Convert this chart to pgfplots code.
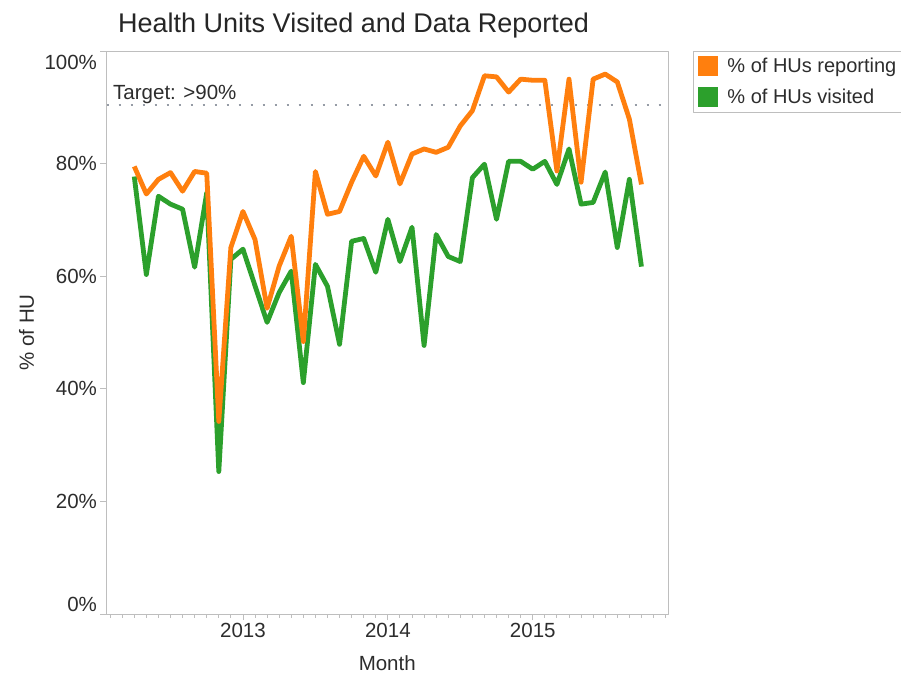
\documentclass[border=0pt]{standalone}
\usepackage{pgfplots}
\pgfplotsset{compat=1.18}
\usepackage{fontspec}
\setmainfont{Liberation Sans}
\definecolor{huorange}{HTML}{FF7F0E}
\definecolor{hugreen}{HTML}{2CA02C}
\definecolor{txt}{RGB}{45,45,45}
\definecolor{frame}{RGB}{190,190,190}
\definecolor{target}{RGB}{150,156,166}
\newcommand\lbl{\fontsize{20.5pt}{24pt}\selectfont}
\pgfplotstableread{
m orange green
-9 79.5 77.7
-8 74.6 60.3
-7 77.2 74.2
-6 78.4 72.8
-5 75.1 71.9
-4 78.6 61.6
-3 78.3 74.8
-2 34.2 25.3
-1 65.1 63.0
0 71.5 64.8
1 66.5 58.3
2 54.3 51.8
3 61.8 57.1
4 67.1 60.9
5 48.4 41.1
6 78.6 62.1
7 71.0 58.2
8 71.5 47.9
9 76.7 66.2
10 81.3 66.7
11 77.8 60.7
12 83.8 70.1
13 76.4 62.6
14 81.7 68.7
15 82.6 47.7
16 82.0 67.4
17 82.9 63.5
18 86.7 62.6
19 89.4 77.5
20 95.6 79.9
21 95.4 70.1
22 92.7 80.4
23 95.0 80.4
24 94.8 79.0
25 94.8 80.4
26 78.7 76.3
27 95.0 82.6
28 76.7 72.8
29 95.0 73.1
30 95.9 78.5
31 94.5 65.1
32 87.9 77.2
33 76.3 61.7
}\hudata
\begin{document}
\begin{tikzpicture}
\useasboundingbox[fill=white] (0,0) rectangle (901pt,675pt);
\begin{axis}[
  at={(106.5pt,61pt)}, anchor=south west,
  scale only axis, width=561.5pt, height=563pt,
  xmin=-11.3, xmax=35.2, ymin=0, ymax=100,
  axis line style={draw=frame, line width=0.9pt},
  xtick={0,12,24}, xticklabels={2013,2014,2015},
  minor xtick={-11,...,35},
  ytick={0,20,40,60,80,100},
  yticklabels={\raisebox{2.6pt}[0pt][0pt]{0\%},20\%,40\%,60\%,80\%,\raisebox{-18.4pt}[0pt][0pt]{100\%}},
  tick align=outside, xtick pos=bottom, ytick pos=left,
  major tick length=6pt, minor tick length=3.5pt,
  tick style={draw=frame, line width=0.9pt},
  tick label style={font=\lbl, text=txt},
  xlabel={Month}, ylabel={\% of HU},
  label style={font=\lbl, text=txt},
  xlabel style={at={(axis description cs:0.5,-0.087)}, anchor=center},
  ylabel style={at={(axis description cs:-0.1425,0.5)}, anchor=center},
  title={Health Units Visited and Data Reported},
  title style={font=\fontsize{27pt}{32pt}\selectfont, text=black!85, at={(axis description cs:0.0205,1.035)}, anchor=west, inner sep=0pt},
  legend style={at={(1.0445,1)}, anchor=north west, draw=frame, line width=0.9pt,
    inner sep=5pt, row sep=11pt, column sep=9pt, font=\fontsize{20pt}{24pt}\selectfont, text=txt,
    nodes={inner sep=0pt}, cells={anchor=west}},
  legend image code/.code={\fill[#1, draw=none] (0pt,-10pt) rectangle (20pt,10pt);},
  reverse legend,
  line join=round,
]
\addplot[target, line width=2.5pt, dash pattern=on 2.5pt off 9.5pt, forget plot] coordinates {(-11.3,90.4) (35.2,90.4)};
\node[anchor=base west, inner sep=0pt, font=\lbl, text=txt] at (axis cs:-10.76,91.46) {Target: >90\%};
\addplot[hugreen, line width=4.8pt] table[x=m, y=green] {\hudata};
\addlegendentry{\% of HUs visited}
\addplot[huorange, line width=4.8pt] table[x=m, y=orange] {\hudata};
\addlegendentry{\% of HUs reporting}
\end{axis}
\end{tikzpicture}
\end{document}
